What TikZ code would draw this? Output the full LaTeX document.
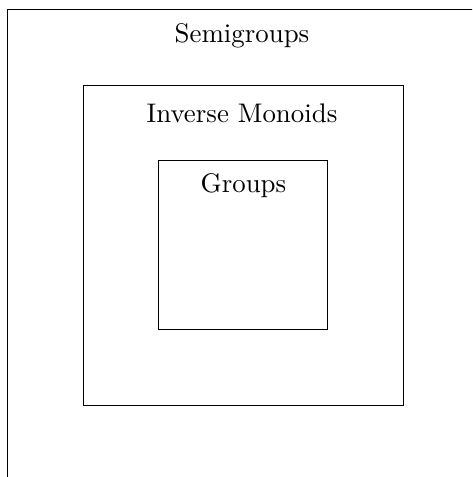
\documentclass[tikz,border=0pt]{standalone}
\begin{document}
\begin{tikzpicture}[x=0.372pt,y=-0.372pt,
  setbox/.style={draw,line width=0.4pt,inner sep=0pt,outer sep=0pt},
  setname/.style={anchor=base,inner sep=0pt}]
  \path[use as bounding box,clip] (0,0) rectangle (472,477);
  % nested sets, drawn as squares around a common centre
  \node[setbox,minimum width=471*0.372pt,minimum height=471*0.372pt] (semi) at (243,245) {};
  \node[setbox,minimum width=320*0.372pt,minimum height=320*0.372pt] (inv) at (243.5,245.5) {};
  \node[setbox,minimum width=169*0.372pt,minimum height=169*0.372pt] (grp) at (243,245) {};
  % set names
  \node[setname] (seminame) at (242,42) {Semigroups};
  \node[setname] (invname) at (242,122) {Inverse Monoids};
  \node[setname] (grpname) at (243.5,192) {Groups};
\end{tikzpicture}
\end{document}
